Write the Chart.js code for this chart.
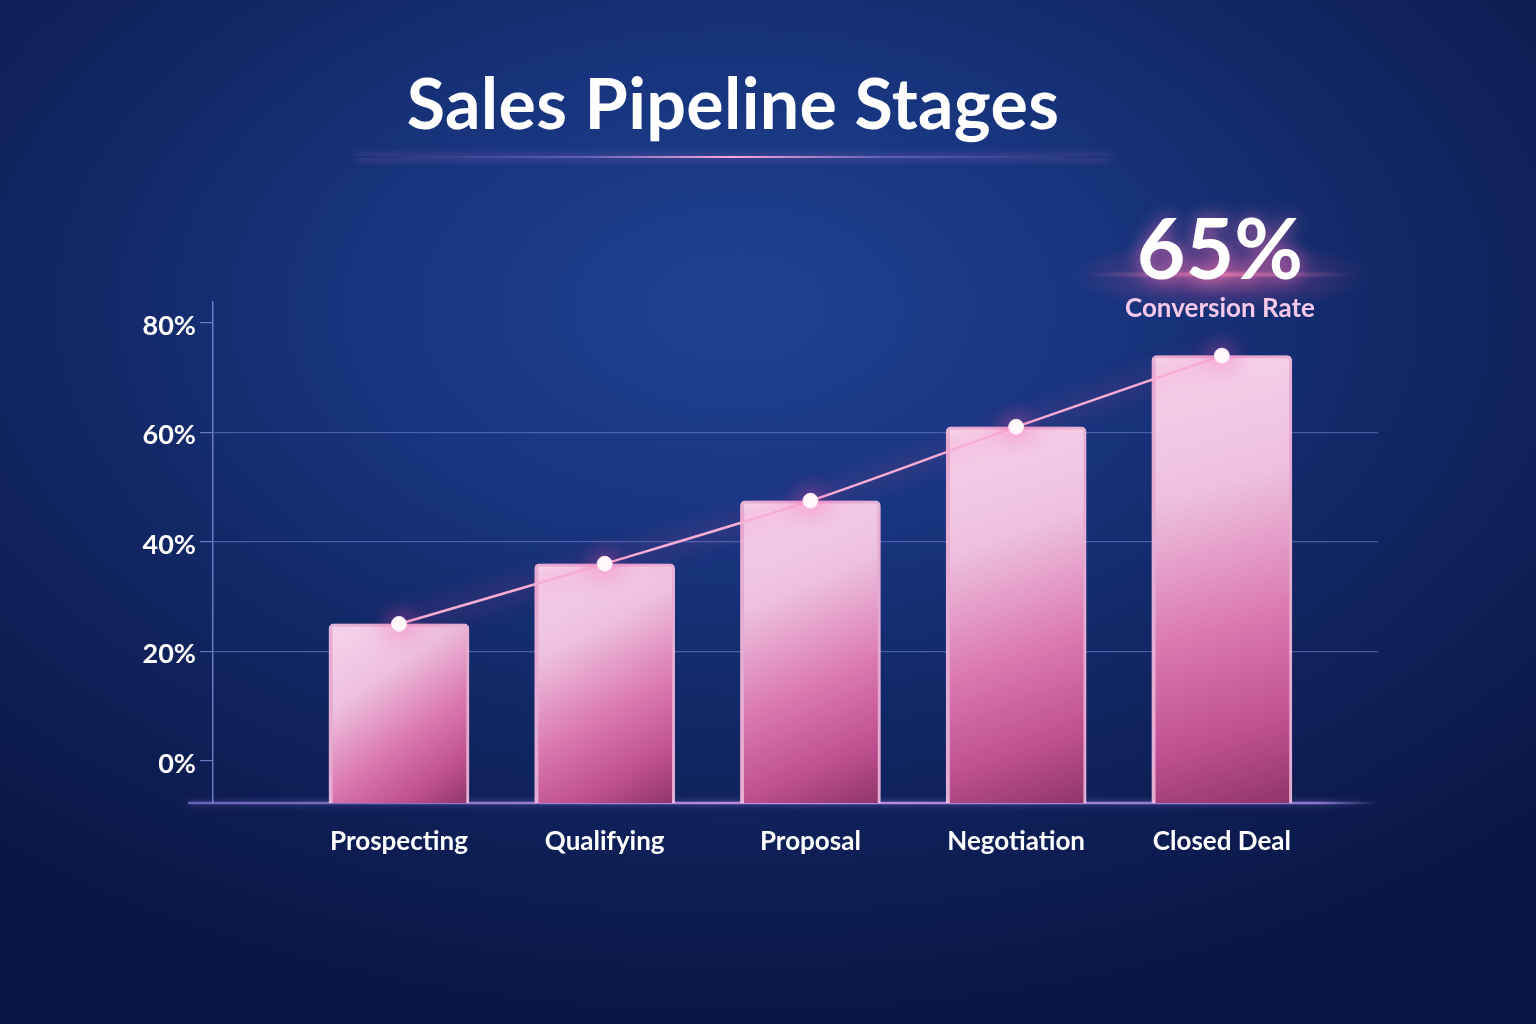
<!DOCTYPE html>
<html>
<head>
<meta charset="utf-8">
<script src="https://cdn.jsdelivr.net/npm/chart.js@4.4.1/dist/chart.umd.min.js"></script>
<style>
  html, body { margin: 0; padding: 0; }
  body {
    width: 1536px; height: 1024px; overflow: hidden; position: relative;
    background: radial-gradient(ellipse 75% 70% at 48% 30%, #1f4290 0%, #183680 30%, #10245f 65%, #0a1645 100%);
    font-family: Lato, "Open Sans", sans-serif;
  }
  #chart { position: absolute; left: 0; top: 0; }
  .title {
    position: absolute; left: 0; width: 1466px; top: 60px; text-align: center;
    color: #ffffff; font-weight: 700; font-size: 70px; letter-spacing: 0.3px;
  }
  .title-line {
    position: absolute; left: 355px; top: 156px; width: 755px; height: 2px;
    background: linear-gradient(90deg, rgba(110,110,220,0) 0%, rgba(140,120,220,0.6) 30%, #ffa6dc 50%, rgba(140,120,220,0.6) 70%, rgba(110,110,220,0) 100%);
    box-shadow: 0 0 8px rgba(255,140,210,0.6);
  }
  .kpi-glow {
    position: absolute; left: 1070px; top: 215px; width: 300px; height: 110px;
    background: radial-gradient(ellipse 50% 35% at 50% 55%, rgba(255,110,170,0.55) 0%, rgba(220,80,160,0.2) 55%, rgba(200,60,150,0) 100%);
  }
  .kpi-line {
    position: absolute; left: 1085px; top: 273px; width: 270px; height: 3px;
    background: linear-gradient(90deg, rgba(255,120,170,0) 0%, rgba(255,140,180,0.9) 50%, rgba(255,120,170,0) 100%);
    filter: blur(1.5px);
  }
  .kpi {
    position: absolute; left: 1070px; width: 300px; top: 196px; text-align: center;
    color: #ffffff; font-weight: 700; font-size: 84px;
    text-shadow: 0 0 18px rgba(255,120,190,0.7);
  }
  .kpi-label {
    position: absolute; left: 1070px; width: 300px; top: 291px; text-align: center;
    color: #f6c9ea; font-weight: 700; font-size: 26px;
  }
</style>
</head>
<body>
<canvas id="chart" width="1536" height="1024"></canvas>
<div class="title">Sales Pipeline Stages</div>
<div class="title-line"></div>
<div class="kpi-glow"></div>
<div class="kpi-line"></div>
<div class="kpi" id="kpi"></div>
<div class="kpi-label">Conversion Rate</div>
<script>
// chart data
const stages = ['Prospecting', 'Qualifying', 'Proposal', 'Negotiation', 'Closed Deal'];
const stageValues = [25, 36, 47.5, 61, 74];
const yTicks = [0, 20, 40, 60, 80];
const conversionRate = 65;

const yMin = -7.7;
const yMax = 83.8;

document.getElementById('kpi').textContent = conversionRate + '%';

const points = stages.map((s, i) => ({ x: i, y: stageValues[i] }));

function barGradient(context) {
    const chart = context.chart;
    const area = chart.chartArea;
    if (!area) return '#e79ac4';
    const i = context.dataIndex;
    const xs = chart.scales.x, ys = chart.scales.y;
    const cx = xs.getPixelForValue(i);
    const top = ys.getPixelForValue(stageValues[i]);
    const g = chart.ctx.createLinearGradient(cx - 60, top, cx + 70, area.bottom);
    g.addColorStop(0, '#f6d3ea');
    g.addColorStop(0.3, '#eec0df');
    g.addColorStop(0.6, '#da78b0');
    g.addColorStop(0.82, '#c05193');
    g.addColorStop(1, '#8f356b');
    return g;
}

const glowPlugin = {
    id: 'glow',
    beforeDatasetDraw(chart, args) {
        const ctx = chart.ctx;
        ctx.save();
        if (args.meta.type === 'bar') {
            ctx.shadowColor = 'rgba(255,120,190,0.55)';
            ctx.shadowBlur = 26;
        } else {
            ctx.shadowColor = 'rgba(255,80,165,1)';
            ctx.shadowBlur = 24;
        }
    },
    afterDatasetDraw(chart) {
        chart.ctx.restore();
    },
    beforeDatasetsDraw(chart) {
        // x axis base line, running a little past the y axis
        const ctx = chart.ctx;
        const a = chart.chartArea;
        ctx.save();
        const g = ctx.createLinearGradient(a.left - 25, 0, a.right, 0);
        g.addColorStop(0, 'rgba(150,140,230,0.6)');
        g.addColorStop(0.5, 'rgba(200,150,230,0.95)');
        g.addColorStop(0.95, 'rgba(160,140,230,0.8)');
        g.addColorStop(1, 'rgba(160,140,230,0)');
        ctx.strokeStyle = g;
        ctx.lineWidth = 2.5;
        ctx.shadowColor = 'rgba(200,140,255,0.6)';
        ctx.shadowBlur = 6;
        ctx.beginPath();
        ctx.moveTo(a.left - 25, a.bottom);
        ctx.lineTo(a.right, a.bottom);
        ctx.stroke();
        ctx.restore();
    }
};

const ctx = document.getElementById('chart').getContext('2d');
const myChart = new Chart(ctx, {
    data: {
        datasets: [
            {
                type: 'line',
                data: points,
                borderColor: '#f8aed4',
                borderWidth: 2.5,
                tension: 0.3,
                pointRadius: 7.5,
                pointBackgroundColor: '#ffffff',
                pointBorderColor: '#ffe2f1',
                pointBorderWidth: 1,
                order: 0
            },
            {
                type: 'bar',
                data: points,
                base: yMin,
                barThickness: 140,
                backgroundColor: barGradient,
                borderColor: 'rgba(255,214,236,0.85)',
                borderWidth: { top: 3, left: 4, right: 3, bottom: 0 },
                borderRadius: { topLeft: 5, topRight: 5 },
                borderSkipped: 'bottom',
                order: 1
            }
        ]
    },
    options: {
        responsive: false,
        animation: false,
        devicePixelRatio: 1,
        layout: { padding: { top: 302, right: 158, left: 0, bottom: 0 } },
        plugins: {
            legend: { display: false },
            tooltip: { enabled: false }
        },
        scales: {
            x: {
                type: 'linear',
                offset: false,
                min: -0.904,
                max: 4.759,
                afterBuildTicks: scale => { scale.ticks = stages.map((s, i) => ({ value: i })); },
                afterFit: scale => { scale.height = 221; },
                grid: { display: false, offset: false },
                border: { display: false },
                ticks: {
                    color: '#ffffff',
                    padding: 15,
                    font: { family: 'Lato', size: 26, weight: '700' },
                    callback: v => stages[v]
                }
            },
            y: {
                min: yMin,
                max: yMax,
                afterBuildTicks: scale => { scale.ticks = yTicks.map(v => ({ value: v })); },
                afterFit: scale => { scale.width = 213; },
                grid: {
                    color: c => (c.tick && c.tick.value > 0 && c.tick.value < 80) ? 'rgba(120,140,215,0.5)' : 'rgba(0,0,0,0)',
                    tickColor: 'rgba(125,142,214,0.8)',
                    tickLength: 13,
                    lineWidth: 1.2
                },
                border: { display: true, color: 'rgba(120,138,210,0.85)', width: 1.5 },
                ticks: {
                    color: '#ffffff',
                    padding: 4,
                    labelOffset: 3,
                    font: { family: 'Lato', size: 27, weight: '700' },
                    callback: v => v + '%'
                }
            }
        }
    },
    plugins: [glowPlugin]
});
</script>
</body>
</html>
